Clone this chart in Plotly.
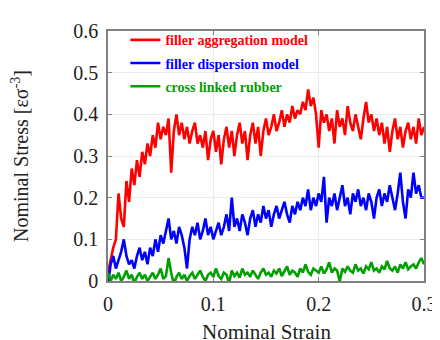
import plotly.graph_objects as go

strain = [round(0.0025 * i, 4) for i in range(121)]

aggregation = [
    0.02, 0.05, 0.08, 0.10, 0.21, 0.15, 0.13, 0.24, 0.19, 0.27,
    0.23, 0.29, 0.25, 0.31, 0.28, 0.33, 0.30, 0.35, 0.32, 0.38,
    0.34, 0.37, 0.35, 0.39, 0.26, 0.36, 0.40, 0.35, 0.38, 0.34,
    0.37, 0.33, 0.36, 0.38, 0.33, 0.35, 0.32, 0.36, 0.29, 0.34,
    0.36, 0.31, 0.35, 0.28, 0.34, 0.37, 0.32, 0.36, 0.30, 0.35,
    0.38, 0.33, 0.36, 0.29, 0.35, 0.38, 0.33, 0.37, 0.30, 0.36,
    0.39, 0.35, 0.37, 0.40, 0.36, 0.38, 0.41, 0.37, 0.40, 0.38,
    0.42, 0.39, 0.41, 0.40, 0.43, 0.41, 0.46, 0.42, 0.44, 0.40,
    0.32, 0.41, 0.38, 0.40, 0.36, 0.39, 0.33, 0.41, 0.37, 0.39,
    0.35, 0.42, 0.38, 0.36, 0.40, 0.37, 0.34, 0.39, 0.43, 0.38,
    0.40, 0.36, 0.39, 0.35, 0.38, 0.33, 0.37, 0.31, 0.36, 0.39,
    0.34, 0.37, 0.32, 0.36, 0.38, 0.34, 0.37, 0.33, 0.39, 0.35,
    0.37,
]

dispersion = [
    -0.01, 0.04, 0.06, 0.03, 0.05, 0.07, 0.10, 0.06, 0.04, 0.05,
    0.03, 0.06, 0.08, 0.05, 0.07, 0.04, 0.08, 0.06, 0.10, 0.07,
    0.11, 0.09, 0.12, 0.15, 0.10, 0.12, 0.09, 0.13, 0.11, 0.08,
    0.03, 0.10, 0.13, 0.11, 0.14, 0.10, 0.12, 0.15, 0.11, 0.13,
    0.10, 0.12, 0.14, 0.11, 0.13, 0.16, 0.12, 0.20, 0.13, 0.15,
    0.12, 0.16, 0.14, 0.11, 0.15, 0.17, 0.13, 0.16, 0.14, 0.18,
    0.15, 0.17, 0.13, 0.16, 0.18, 0.15, 0.17, 0.19, 0.16, 0.14,
    0.18, 0.16, 0.19, 0.17, 0.20, 0.18, 0.22, 0.17, 0.20, 0.18,
    0.21, 0.19, 0.25, 0.14, 0.20, 0.18, 0.21, 0.17, 0.20, 0.23,
    0.18, 0.20, 0.16, 0.21, 0.19, 0.22, 0.18, 0.20, 0.17, 0.21,
    0.19, 0.15, 0.20, 0.22, 0.18, 0.21, 0.19, 0.23, 0.20, 0.17,
    0.21, 0.26, 0.19, 0.15, 0.22, 0.20, 0.26, 0.21, 0.23, 0.20,
    0.20,
]

crosslinked = [
    0.02, 0.0, 0.015, 0.005, 0.02, 0.0, 0.01, 0.025, 0.005, 0.015,
    -0.005, 0.01, 0.02, 0.005, 0.015, 0.0, 0.01, 0.02, 0.005, 0.015,
    0.03, 0.005, 0.012, 0.055, 0.02, -0.008, 0.01, 0.02, 0.005, 0.015,
    0.0, 0.012, 0.02, 0.005, 0.015, 0.025, 0.01, 0.0, 0.015, 0.02,
    0.01, 0.03, 0.012, 0.005, 0.02, 0.015, -0.005, 0.025, 0.012, 0.02,
    0.008, 0.03, 0.015, 0.02, 0.01, 0.025, 0.015, 0.005, 0.02, 0.03,
    0.015, 0.02, 0.01, 0.025, 0.018, 0.03, 0.012, 0.022, 0.035, 0.015,
    0.025, 0.02, 0.01, 0.03, 0.02, 0.04, 0.022, 0.015, 0.03, 0.025,
    0.02, 0.035, 0.018, 0.028, 0.045, 0.02, 0.03, 0.025, -0.002, 0.03,
    0.022, 0.035, 0.025, 0.02, 0.04, 0.025, 0.03, 0.018, 0.035, 0.028,
    0.045, 0.025, 0.03, 0.02, 0.035, 0.028, 0.048, 0.03, 0.025, 0.035,
    0.02, 0.04, 0.03, 0.045, 0.028, 0.035, 0.04, 0.03, 0.045, 0.055,
    0.04,
]

series_names = ["filler aggregation model", "filler dispersion model", "cross linked rubber"]
series_colors = ["#ff0000", "#0000ff", "#00a000"]
x_ticks = [0, 0.1, 0.2, 0.3]
x_tick_labels = ["0", "0.1", "0.2", "0.3"]
y_ticks = [0, 0.1, 0.2, 0.3, 0.4, 0.5, 0.6]
y_tick_labels = ["0", "0.1", "0.2", "0.3", "0.4", "0.5", "0.6"]

fig = go.Figure()
for k, (name, vals, col) in enumerate(zip(series_names, [aggregation, dispersion, crosslinked], series_colors)):
    fig.add_trace(go.Scatter(
        x=strain, y=vals, mode="lines", legendgroup=f"g{k}",
        name=f'<span style="color:{col}"><b>{name}</b></span>',
        line=dict(color=col, width=2.6),
    ))

axis_common = dict(
    showline=True, linecolor="#808080", linewidth=1.5, mirror="ticks",
    ticks="inside", ticklen=4, tickcolor="#808080",
    showgrid=True, gridcolor="#ececec", gridwidth=1, zeroline=False,
    tickfont=dict(family="Liberation Serif", size=20, color="#222"),
)

fig.update_layout(
    width=432, height=332,
    margin=dict(l=100, r=16, t=15, b=59),
    paper_bgcolor="white", plot_bgcolor="white",
    font=dict(family="Liberation Serif", color="#222"),
    showlegend=True,
    legend=dict(
        x=0.055, y=1.027, xanchor="left", yanchor="top",
        bgcolor="rgba(0,0,0,0)", borderwidth=0,
        font=dict(family="Liberation Serif", size=14),
        tracegroupgap=2, itemwidth=30,
    ),
    xaxis=dict(
        range=[0, 0.3], tickvals=x_ticks, ticktext=x_tick_labels,
        ticklabelstandoff=4, automargin=False,
        **axis_common,
    ),
    yaxis=dict(
        range=[0, 0.6], tickvals=y_ticks, ticktext=y_tick_labels,
        ticklabelstandoff=4, automargin=True,
        title=dict(text="Nominal Stress [εσ<sup>-3</sup>]",
                   font=dict(family="Liberation Serif", size=20), standoff=39),
        **axis_common,
    ),
    annotations=[dict(
        text="Nominal Strain", xref="paper", yref="paper",
        x=0.5, y=-0.203, xanchor="center", yanchor="middle", showarrow=False,
        font=dict(family="Liberation Serif", size=21, color="#222"),
    )],
)

fig.write_html("out.html")
